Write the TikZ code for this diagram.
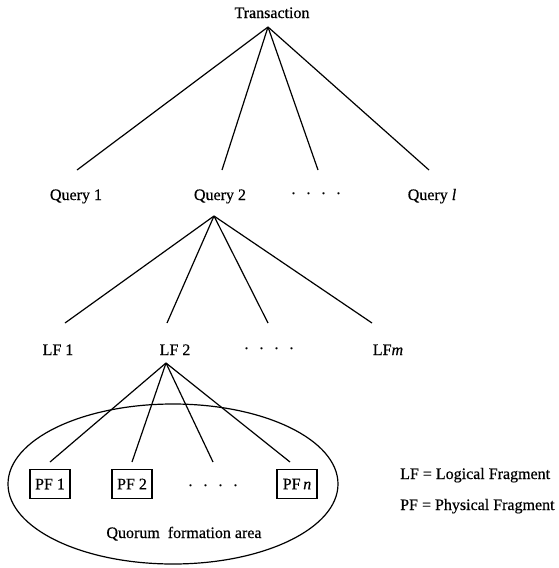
\documentclass[tikz,border=0pt]{standalone}
\usepackage{fontspec}
\setmainfont{Liberation Serif}[FakeBold=0.5]
\usetikzlibrary{shapes.geometric}
\begin{document}
\begin{tikzpicture}[x=1pt,y=-1pt,
  lbl/.style={font=\fontsize{16}{19}\selectfont, inner sep=0pt, anchor=base},
  leg/.style={font=\fontsize{16}{19}\selectfont, inner sep=0pt, anchor=base west},
  edge/.style={line width=1.2pt},
  pfbox/.style={draw, line width=1.1pt, minimum width=40pt, minimum height=29pt, inner sep=0pt, font=\fontsize{16}{19}\selectfont},
  area/.style={draw, line width=1.2pt, ellipse, minimum width=330pt, minimum height=160pt, inner sep=0pt}]
\useasboundingbox (0,0) rectangle (559,568);
\newcommand{\fourdots}{.\hspace{11pt}.\hspace{11pt}.\hspace{11pt}.}
% level 0
\node[lbl] (T) at (272,18) {Transaction};
\coordinate (Ta) at (268,27);
% level 1
\node[lbl] (Q1) at (76,200) {Query 1};
\node[lbl] (Q2) at (220,200) {Query 2};
\node[lbl] (Qd) at (316,194) {\fourdots};
\node[lbl] (Ql) at (432,200) {Query \textit{l}};
\coordinate (Q1t) at (77,170);
\coordinate (Q2t) at (222,170);
\coordinate (Qdt) at (318,170);
\coordinate (Qlt) at (429,170);
\coordinate (Q2a) at (214,216);
% level 2
\node[lbl] (L1) at (58,355) {LF 1};
\node[lbl] (L2) at (175,355) {LF 2};
\node[lbl] (Ld) at (269,349) {\fourdots};
\node[lbl] (Lm) at (388,355) {LF\textit{m}};
\coordinate (L1t) at (65,323);
\coordinate (L2t) at (167,323);
\coordinate (Ldt) at (268,323);
\coordinate (Lmt) at (372,323);
\coordinate (L2a) at (166,363);
% level 3
\node[area] (Qa) at (173,484) {};
\node[pfbox] (P1) at (50,484) {PF 1};
\node[pfbox] (P2) at (132,484) {PF 2};
\node[lbl] (Pd) at (213,486) {\fourdots};
\node[pfbox] (Pn) at (297,484) {PF\,\textit{n}};
\coordinate (P1t) at (50,462);
\coordinate (P2t) at (132,462);
\coordinate (Pdt) at (213,462);
\coordinate (Pnt) at (290,462);
\node[lbl] (Qf) at (184,538) {Quorum\hspace{8pt}formation area};
% legend
\node[leg] (LegL) at (400,479) {LF = Logical Fragment};
\node[leg] (LegP) at (400,510) {PF = Physical Fragment};
% edges
\foreach \e in {Q1t,Q2t,Qdt,Qlt} \draw[edge] (Ta) -- (\e);
\foreach \e in {L1t,L2t,Ldt,Lmt} \draw[edge] (Q2a) -- (\e);
\foreach \e in {P1t,P2t,Pdt,Pnt} \draw[edge] (L2a) -- (\e);
\end{tikzpicture}
\end{document}
